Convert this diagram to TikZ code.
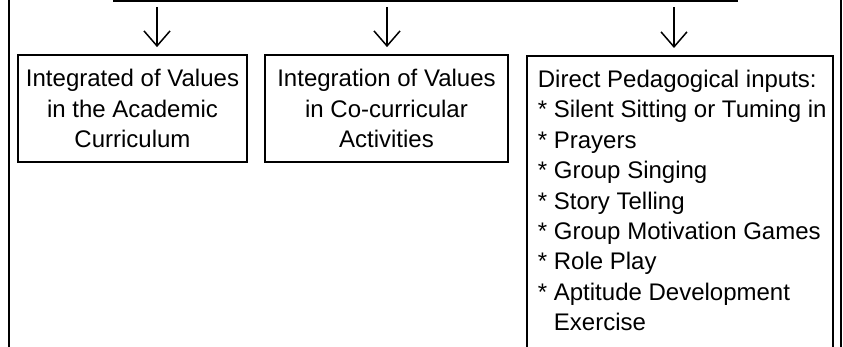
\documentclass[tikz,border=0pt]{standalone}
\usepackage{fontspec}
\setmainfont{Liberation Sans}
\usetikzlibrary{arrows.meta}
\begin{document}
\begin{tikzpicture}[x=1pt,y=-1pt,
  rule/.style={line width=2pt},
  valuebox/.style={draw, line width=1.8pt, align=center, inner sep=0pt,
    minimum height=107pt, font=\fontsize{24}{30.4}\selectfont},
  listbox/.style={draw, line width=1.8pt, anchor=north west,
    inner xsep=11pt, inner ysep=14.3pt, font=\fontsize{24}{30.4}\selectfont},
  down/.style={line width=1.5pt, shorten >=7pt,
    -{Straight Barb[length=15pt,width=26pt,line width=1.5pt]}}
]
\useasboundingbox (0,0) rectangle (843,347);
\clip (0,0) rectangle (843,347);

% outer frame lines and the distributing bar
\coordinate (lt) at (9,0);    \coordinate (lb) at (9,347);
\coordinate (rt) at (840.5,0); \coordinate (rb) at (840.5,347);
\coordinate (bl) at (113,1);  \coordinate (br) at (738,1);
\draw[rule] (lt) -- (lb);
\draw[rule] (rt) -- (rb);
\draw[rule, line width=2.3pt] (bl) -- (br);

% the three branches
\node[valuebox, minimum width=229pt] (curr) at (132.5,108.5)
  {Integrated of Values\\in the Academic\\Curriculum};
\node[valuebox, minimum width=243pt] (cocurr) at (386.5,108.5)
  {Integration of Values\\in Co-curricular\\Activities};
\node[listbox] (direct) at (526,55) {\parbox[t][300pt][t]{284pt}{%
  \mbox{Direct Pedagogical inputs:}\\
  \mbox{* Silent Sitting or Tuming in}\\
  \mbox{* Prayers}\\
  \mbox{* Group Singing}\\
  \mbox{* Story Telling}\\
  \mbox{* Group Motivation Games}\\
  \mbox{* Role Play}\\
  \mbox{* Aptitude Development}\\
  \mbox{\phantom{*}\ Exercise}}};

% arrows from the bar down to each branch
\coordinate (a1) at (157,7);
\coordinate (a2) at (387,7);
\coordinate (a3) at (674,7);
\draw[down] (a1) -- (a1 |- curr.north);
\draw[down] (a2) -- (a2 |- cocurr.north);
\draw[down] (a3) -- (a3 |- direct.north);
\end{tikzpicture}
\end{document}
